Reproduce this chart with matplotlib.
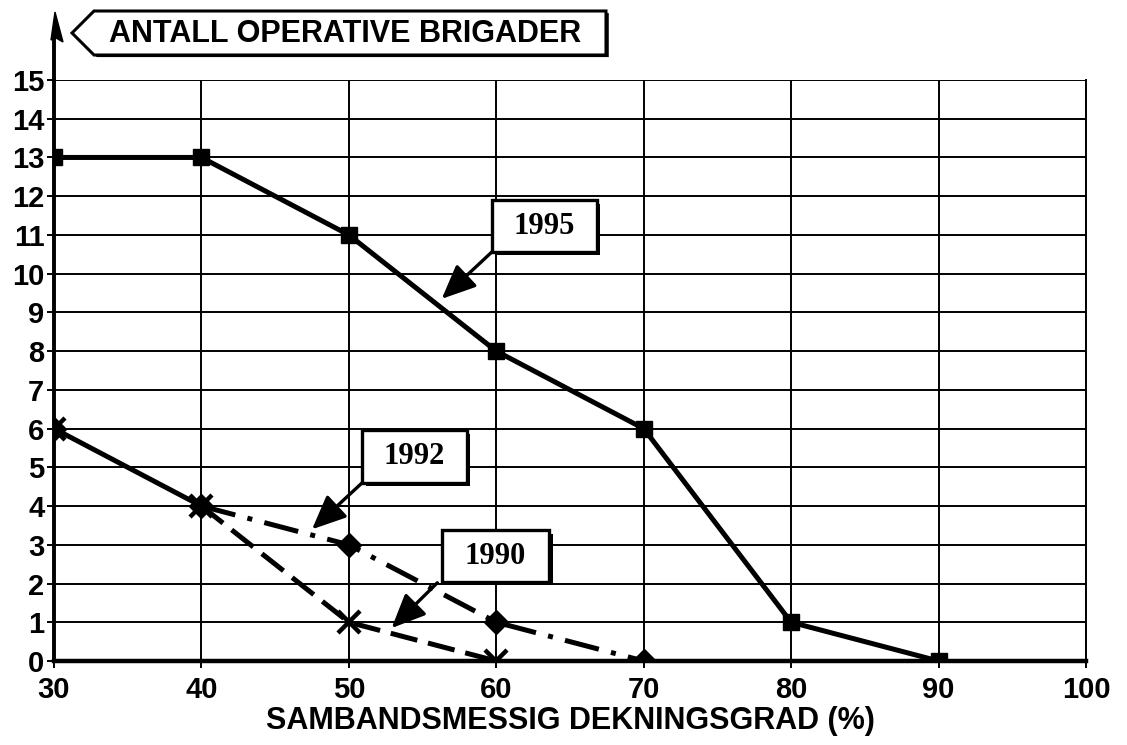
import matplotlib
matplotlib.use("Agg")
import matplotlib.pyplot as plt
from matplotlib.patches import Polygon, Rectangle
import matplotlib.patheffects as pe

plt.rcParams['font.family'] = ['Liberation Sans', 'DejaVu Sans']

# dekningsgrad (%) og antall operative brigader
x_1995 = [30, 40, 50, 60, 70, 80, 90]
y_1995 = [13, 13, 11, 8, 6, 1, 0]
x_1992 = [30, 40, 50, 60, 70]
y_1992 = [6, 4, 3, 1, 0]
x_1990 = [30, 40, 50, 60]
y_1990 = [6, 4, 1, 0]

x_ticks = [30, 40, 50, 60, 70, 80, 90, 100]
y_ticks = list(range(0, 16))

W, H = 1127, 745
fig = plt.figure(figsize=(W / 100, H / 100), dpi=100)
ax = fig.add_axes([54 / W, 1 - 661 / H, (1086 - 54) / W, (661 - 80) / H])

ax.set_xlim(30, 100)
ax.set_ylim(0, 15)
ax.set_xticks(x_ticks)
ax.set_yticks(y_ticks)
ax.grid(True, color='black', lw=1.4)
ax.set_axisbelow(True)

ax.spines['top'].set_visible(False)
ax.spines['right'].set_linewidth(1.4)
ax.spines['left'].set_linewidth(2.8)
ax.spines['bottom'].set_linewidth(3.2)

ax.tick_params(axis='both', direction='out', length=5, width=1.4,
               labelsize=21)
ax.tick_params(axis='y', pad=2)
ax.tick_params(axis='x', pad=6)
for lab in ax.get_xticklabels() + ax.get_yticklabels():
    lab.set_fontweight('bold')

ax.set_xlabel('SAMBANDSMESSIG DEKNINGSGRAD (%)', fontsize=22,
              fontweight='bold', labelpad=1)

lw = 3.6
# 1995
ax.plot(x_1995, y_1995, color='black', lw=lw, marker='s', ms=11.5,
        solid_joinstyle='miter', zorder=5)
# 1992 (felles strekning med 1990 tegnes heltrukket)
ax.plot(x_1992[:2], y_1992[:2], color='black', lw=lw, zorder=5)
ax.plot(x_1992[1:], y_1992[1:], color='black', lw=lw,
        linestyle=(0, (7, 2.5, 1, 2.5)), zorder=5)
ax.plot(x_1992, y_1992, linestyle='none', marker='D', ms=12.5,
        color='black', zorder=6)
# 1990
ax.plot(x_1990[1:], y_1990[1:], color='black', lw=lw,
        linestyle=(0, (5.5, 2.2)), zorder=5)
ax.plot(x_1990, y_1990, linestyle='none', marker='x', ms=16, mew=3.2,
        color='black', zorder=7)

# merkelapper med skygge
labels = ['1995', '1992', '1990']
boxes = [(59.7, 10.56, 7.1, 1.34), (50.9, 4.6, 7.1, 1.36), (56.3, 2.04, 7.3, 1.34)]
arrows = [((59.7, 10.56), (56.3, 9.35)),
          ((50.9, 4.6), (47.5, 3.4)),
          ((56.0, 2.02), (52.9, 0.85))]
for lab, (bx, by, bw, bh), (tail, tip) in zip(labels, boxes, arrows):
    r = Rectangle((bx, by), bw, bh, facecolor='white', edgecolor='black',
                  lw=2.4, zorder=10)
    r.set_path_effects([pe.SimplePatchShadow(offset=(2.5, -2.5),
                                             shadow_rgbFace='black', alpha=1),
                        pe.Normal()])
    ax.add_patch(r)
    ax.text(bx + bw / 2, by + bh / 2, lab, ha='center', va='center',
            fontsize=22, fontweight='bold', family='Liberation Serif',
            zorder=11)
    ax.annotate('', xy=tip, xytext=tail,
                arrowprops=dict(arrowstyle='-|>,head_length=0.95,head_width=0.42',
                                mutation_scale=22, color='black', lw=2.4,
                                shrinkA=0, shrinkB=0),
                zorder=9)

# pil på y-aksen
fig.add_artist(plt.Line2D([54 / W, 54 / W], [1 - 80 / H, 1 - 30 / H],
                          color='black', lw=2.8))
fig.add_artist(Polygon([(51 / W, 1 - 40 / H), (55 / W, 1 - 12 / H),
                        (63 / W, 1 - 42 / H), (56 / W, 1 - 38 / H)],
                       closed=True, facecolor='black', edgecolor='black',
                       lw=1))

# tittel i pilformet boks
tpoly = Polygon([(72 / W, 1 - 33 / H), (94 / W, 1 - 11 / H), (606 / W, 1 - 11 / H),
                 (606 / W, 1 - 55 / H), (94 / W, 1 - 55 / H)], closed=True,
                facecolor='white', edgecolor='black', lw=2.2)
tpoly.set_path_effects([pe.SimplePatchShadow(offset=(2, -1.5),
                                             shadow_rgbFace='black', alpha=1),
                        pe.Normal()])
fig.add_artist(tpoly)
fig.text(345 / W, 1 - 34 / H, 'ANTALL OPERATIVE BRIGADER', ha='center',
         va='center', fontsize=22, fontweight='bold')

fig.savefig('out.png', dpi=100)
